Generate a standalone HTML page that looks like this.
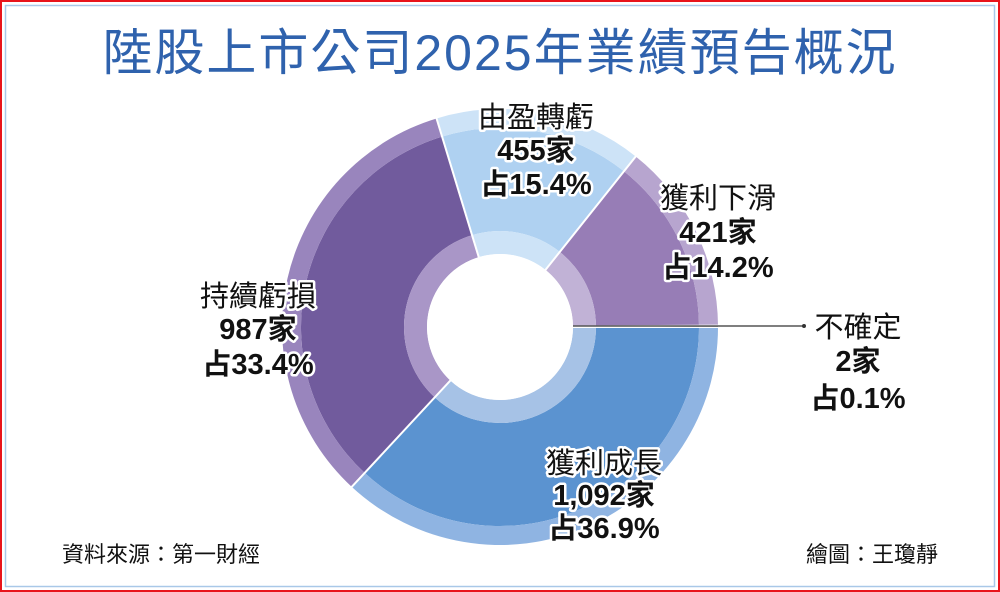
<!DOCTYPE html>
<html><head><meta charset="utf-8"><style>
html,body{margin:0;padding:0;background:#fff}
svg{display:block}
text{font-family:"Liberation Sans","Noto Sans CJK TC",sans-serif}
.l{font-size:29px;fill:#111;stroke:#fff;stroke-width:5px;paint-order:stroke;stroke-linejoin:round;text-anchor:middle}
.b{font-weight:bold}
</style></head><body>
<svg id="s" width="1000" height="592" viewBox="0 0 1000 592" xmlns="http://www.w3.org/2000/svg">
<rect x="1" y="1" width="998" height="590" fill="#fff" stroke="#e8141b" stroke-width="2"/>
<rect x="5.5" y="5.5" width="989" height="581" fill="none" stroke="#a9c8e8" stroke-width="1.5"/>
<text x="500" y="70" text-anchor="middle" font-size="50" fill="#2f62ad" style="letter-spacing:2px">陸股上市公司2025年業績預告概況</text>
<g id="pie"></g>
<line x1="573" y1="326" x2="803" y2="326" stroke="#555" stroke-width="1.5"/>
<circle cx="804" cy="326" r="2" fill="#333"/>
<text class="l" x="536" y="127">由盈轉虧</text>
<text class="l b" x="536" y="160">455家</text>
<text class="l b" x="536" y="194">占15.4%</text>
<text class="l" x="718" y="208">獲利下滑</text>
<text class="l b" x="718" y="242">421家</text>
<text class="l b" x="718" y="277">占14.2%</text>
<text class="l" x="258" y="306">持續虧損</text>
<text class="l b" x="258" y="339">987家</text>
<text class="l b" x="258" y="374">占33.4%</text>
<text class="l" x="858" y="337">不確定</text>
<text class="l b" x="858" y="371">2家</text>
<text class="l b" x="858" y="408">占0.1%</text>
<text class="l" x="604" y="473">獲利成長</text>
<text class="l b" x="604" y="505">1,092家</text>
<text class="l b" x="604" y="538">占36.9%</text>
<text x="62" y="562" font-size="22" fill="#111">資料來源：第一財經</text>
<text x="938" y="562" font-size="22" fill="#111" text-anchor="end">繪圖：王瓊靜</text>
</svg>
<script>
var cx=500,cy=327;
var segs=[[36.9,'#5b93d0','#8fb4e2','#a6c2e6'],[33.4,'#715b9d','#9985bd','#a996c7'],[15.4,'#afd1f1','#cde3f7','#cde3f7'],[14.2,'#977db6','#b7a5cf','#c1b2d6'],[0.1,'#6a6a6a','#888','#aaa']];
function p(r,a){return (cx+r*Math.cos(a)).toFixed(2)+' '+(cy+r*Math.sin(a)).toFixed(2);}
function arc(r1,r2,a0,a1){var lg=(a1-a0)>Math.PI?1:0;
return 'M'+p(r2,a0)+' A'+r2+' '+r2+' 0 '+lg+' 1 '+p(r2,a1)+' L'+p(r1,a1)+' A'+r1+' '+r1+' 0 '+lg+' 0 '+p(r1,a0)+' Z';}
var h='',a=0;
segs.forEach(function(s){var a1=a+s[0]/100*2*Math.PI;
h+='<path d="'+arc(96,199,a,a1)+'" fill="'+s[1]+'"/>';
h+='<path d="'+arc(199,218,a,a1)+'" fill="'+s[2]+'"/>';
h+='<path d="'+arc(73,96,a,a1)+'" fill="'+s[3]+'"/>';
h+='<line x1="'+cx+'" y1="'+cy+'" x2="'+(cx+219*Math.cos(a))+'" y2="'+(cy+219*Math.sin(a))+'" stroke="#fff" stroke-width="2"/>';
a=a1;});
h+='<circle cx="'+cx+'" cy="'+cy+'" r="73" fill="#fff"/>';
document.getElementById('pie').innerHTML=h;
</script>
</body></html>
